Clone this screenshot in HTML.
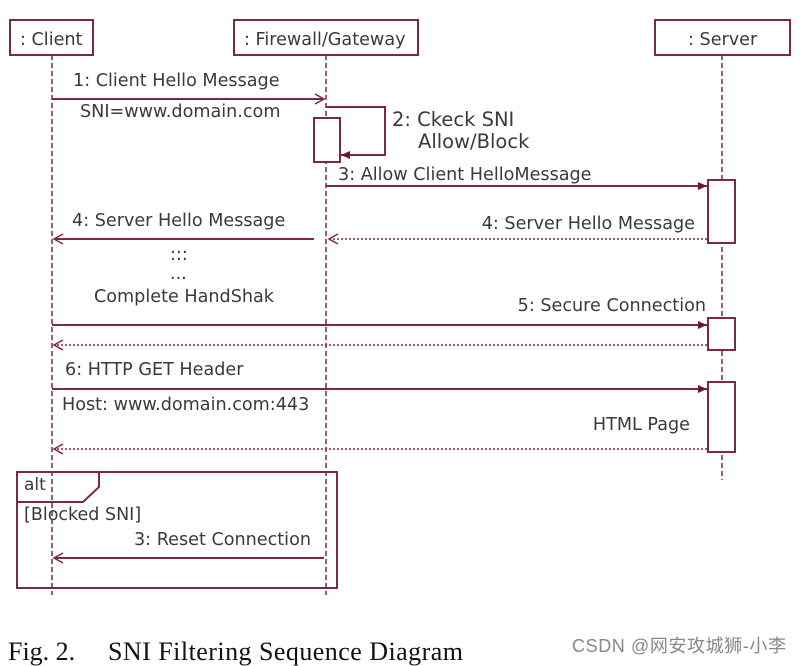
<!DOCTYPE html>
<html><head><meta charset="utf-8"><style>
html,body{margin:0;padding:0;background:#fff;}
svg{display:block;}
text{font-family:"DejaVu Sans","Liberation Sans",sans-serif;fill:#3a3a3a;font-size:17.6px;}
</style></head><body>
<svg width="802" height="666" viewBox="0 0 802 666" xmlns="http://www.w3.org/2000/svg">
<defs>
<marker id="open" markerWidth="12" markerHeight="12" refX="10" refY="6" orient="auto" markerUnits="userSpaceOnUse"><path d="M1,1 L10,6 L1,11" fill="none" stroke="#7a2a3a" stroke-width="1.5"/></marker>
<marker id="fill" markerWidth="12" markerHeight="12" refX="10" refY="6" orient="auto" markerUnits="userSpaceOnUse"><path d="M1,2 L10,6 L1,10 z" fill="#6a1a2a"/></marker>
</defs>
<g stroke="#7a2a3a" fill="none" stroke-width="2">
<rect x="10" y="20" width="83" height="35" fill="#fff"/>
<rect x="234" y="20" width="184" height="35" fill="#fff"/>
<rect x="655" y="20" width="135" height="35" fill="#fff"/>
<g stroke-dasharray="5,3" stroke-width="1.5">
<line x1="52" y1="55" x2="52" y2="595"/>
<line x1="326" y1="55" x2="326" y2="595"/>
<line x1="722" y1="55" x2="722" y2="480"/>
</g>
<line x1="52" y1="99" x2="324" y2="99" marker-end="url(#open)"/>
<polyline points="326,107 385,107 385,155 341,155" marker-end="url(#fill)"/>
<rect x="314" y="118" width="26" height="44" fill="#fff"/>
<line x1="326" y1="186" x2="707" y2="186" marker-end="url(#fill)"/>
<line x1="314" y1="239" x2="54" y2="239" marker-end="url(#open)"/>
<line x1="707" y1="239" x2="329" y2="239" stroke-dasharray="2,2" stroke-width="1.5" marker-end="url(#open)"/>
<line x1="52" y1="325" x2="707" y2="325" marker-end="url(#fill)"/>
<line x1="707" y1="345" x2="54" y2="345" stroke-dasharray="2,2" stroke-width="1.5" marker-end="url(#open)"/>
<line x1="52" y1="389" x2="707" y2="389" marker-end="url(#fill)"/>
<line x1="707" y1="449" x2="54" y2="449" stroke-dasharray="2,2" stroke-width="1.5" marker-end="url(#open)"/>
<rect x="708" y="180" width="27" height="63" fill="#fff"/>
<rect x="708" y="318" width="27" height="32" fill="#fff"/>
<rect x="708" y="382" width="27" height="70" fill="#fff"/>
<rect x="17" y="472" width="320" height="116"/>
<polyline points="17,502 83,502 99,487 99,472"/>
<line x1="324" y1="558" x2="54" y2="558" marker-end="url(#open)"/>
</g>
<text x="20" y="45">: Client</text>
<text x="244" y="45">: Firewall/Gateway</text>
<text x="688" y="45">: Server</text>
<text x="73" y="86">1: Client Hello Message</text>
<text x="80" y="117">SNI=www.domain.com</text>
<text x="392" y="126" style="font-size:19.5px">2: Ckeck SNI</text>
<text x="418" y="148" style="font-size:19.5px">Allow/Block</text>
<text x="338" y="180">3: Allow Client HelloMessage</text>
<text x="72" y="226">4: Server Hello Message</text>
<text x="695" y="229" text-anchor="end">4: Server Hello Message</text>
<text x="170" y="260">:::</text>
<text x="170" y="279">...</text>
<text x="94" y="302">Complete HandShak</text>
<text x="706" y="311" text-anchor="end">5: Secure Connection</text>
<text x="65" y="375">6: HTTP GET Header</text>
<text x="62" y="410">Host: www.domain.com:443</text>
<text x="690" y="430" text-anchor="end">HTML Page</text>
<text x="24" y="490" style="font-size:17px">alt</text>
<text x="24" y="520" style="font-size:17.5px">[Blocked SNI]</text>
<text x="311" y="545" text-anchor="end">3: Reset Connection</text>
<text x="8" y="660" style="font-family:'Liberation Serif',serif;font-size:26px;fill:#111">Fig. 2.</text>
<text x="108" y="660" textLength="355" style="font-family:'Liberation Serif',serif;font-size:26px;fill:#111">SNI Filtering Sequence Diagram</text>
<text x="572" y="652" textLength="214" style="font-family:'Liberation Sans','Noto Sans CJK SC',sans-serif;font-size:18px;fill:#888">CSDN @网安攻城狮-小李</text>
</svg>
</body></html>
